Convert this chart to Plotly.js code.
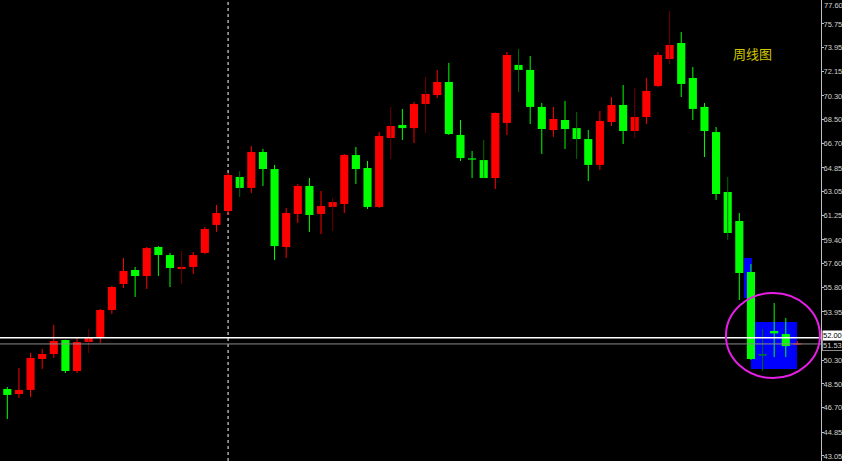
<!DOCTYPE html>
<html>
<head>
<meta charset="utf-8">
<script src="https://cdn.plot.ly/plotly-3.0.1.min.js"></script>
<style>
html,body{margin:0;padding:0;background:#000;}
#chart{width:842px;height:461px;}
</style>
</head>
<body>
<div id="chart"></div>
<script>
// Weekly OHLC values (index = week)
var openP  = [48.12,47.74,48.05,50.39,50.77,51.83,49.48,51.68,52.06,54.10,56.07,57.13,56.67,58.87,58.26,57.20,57.36,58.42,60.54,61.59,64.17,63.34,66.06,64.77,58.87,61.37,63.49,61.37,61.90,62.12,65.83,64.85,61.90,67.12,68.10,67.87,69.69,70.37,71.36,67.35,65.57,65.45,64.09,68.26,72.65,72.27,69.47,67.72,68.48,67.87,67.04,65.08,68.33,69.62,67.65,68.71,71.06,73.10,74.31,71.66,69.47,67.57,63.03,60.84,56.98,50.71,52.51,52.28,51.53];
var highP  = [48.27,49.71,50.85,51.15,52.97,51.85,51.98,52.66,54.18,55.92,58.04,57.36,58.87,58.94,58.42,58.57,58.49,60.38,62.05,64.47,64.62,66.52,66.29,65.08,61.82,63.64,64.09,63.11,62.58,65.91,66.44,65.38,67.57,69.47,69.32,69.84,71.74,72.27,72.80,68.48,66.14,66.97,69.05,73.63,73.86,73.33,69.77,69.47,69.92,69.09,67.73,69.16,70.22,71.13,70.90,71.66,73.63,76.73,75.14,72.49,69.77,67.95,64.17,61.44,57.58,52.66,54.63,53.50,51.75];
var lowP   = [45.85,47.44,47.52,49.64,50.47,49.33,49.33,50.85,51.60,53.80,55.77,55.09,55.69,56.67,55.84,56.07,56.83,58.34,60.01,61.29,62.65,62.96,63.49,57.89,58.04,60.69,60.01,59.85,60.08,61.44,63.64,61.75,61.82,65.53,66.97,66.74,67.50,70.15,67.35,65.38,64.09,64.05,63.26,67.35,70.60,68.18,65.91,67.20,66.29,65.53,63.86,64.70,68.03,66.66,67.12,68.18,70.98,72.72,70.22,68.48,65.68,62.43,59.40,54.86,50.32,49.48,50.54,50.54,51.45];
var closeP = [47.67,48.05,50.47,50.77,51.75,49.48,51.68,51.98,54.10,55.84,57.05,56.67,58.79,58.26,57.28,57.36,58.26,60.23,61.44,64.32,63.34,66.06,64.77,58.94,61.44,63.49,61.29,61.97,62.27,65.83,64.77,61.90,67.27,68.03,67.87,69.69,70.45,71.36,67.42,65.60,65.49,64.09,69.01,73.40,72.27,69.47,67.80,68.56,67.80,67.04,65.08,68.41,69.62,67.65,68.71,70.68,73.40,74.16,71.21,69.32,67.65,62.88,59.93,56.90,50.39,50.69,52.33,51.37,51.53];

// Right price scale labels
var tickVals = [75.75,73.95,72.15,70.30,68.50,66.70,64.85,63.05,61.25,59.40,57.60,55.80,53.95,50.30,48.50,46.70,44.85,43.05];
var tickText = ["75.75","73.95","72.15","70.30","68.50","66.70","64.85","63.05","61.25","59.40","57.60","55.80","53.95","50.30","48.50","46.70","44.85","43.05"];
var topTickText = "77.60";

// Reference lines
var hLinePrice = 52.00;
var bidPrice = 51.53;
var separatorWeek = 19;
var chartTitle = "周线图";

// Style: weeks whose wick is drawn in a dimmer tone
var dimWicks = [7,15,20,28,33,36,41,44,49,54,57,62,65];

var n = openP.length;
var idx = [];
for (var i = 0; i < n; i++) idx.push(i);

function wickTrace(filterFn, color) {
  var xs = [], ys = [];
  for (var i = 0; i < n; i++) {
    if (!filterFn(i)) continue;
    xs.push(i, i, null);
    ys.push(lowP[i], highP[i], null);
  }
  return {type:'scatter', mode:'lines', x:xs, y:ys, line:{color:color, width:1}, hoverinfo:'skip', showlegend:false};
}
function isUp(i){ return closeP[i] >= openP[i]; }
function isDim(i){ return dimWicks.indexOf(i) >= 0; }

var traces = [
  wickTrace(function(i){return isUp(i) && !isDim(i);}, '#ff0000'),
  wickTrace(function(i){return isUp(i) && isDim(i);}, '#6a0000'),
  wickTrace(function(i){return !isUp(i) && !isDim(i);}, '#00ff00'),
  wickTrace(function(i){return !isUp(i) && isDim(i);}, '#006a00')
];

var bases = [], heights = [], colors = [];
for (var j = 0; j < n; j++) {
  var lo = Math.min(openP[j], closeP[j]);
  var h = Math.abs(closeP[j] - openP[j]);
  if (h < 0.09) { lo = (openP[j] + closeP[j]) / 2 - 0.045; h = 0.09; }
  bases.push(lo); heights.push(h);
  var c = isUp(j) ? '#ff0000' : '#00ff00';
  if (j === 65) c = '#00a000';
  colors.push(c);
}
traces.push({type:'bar', x:idx, base:bases, y:heights, width:0.7,
  marker:{color:colors, line:{width:0}}, hoverinfo:'skip', showlegend:false});

var tickFont = {family:'Liberation Sans, sans-serif', size:7.5, color:'#d0d0d0'};

var layout = {
  width:842, height:461,
  paper_bgcolor:'#000000', plot_bgcolor:'#000000',
  margin:{l:0, r:21, t:0, b:0},
  showlegend:false, barmode:'overlay',
  xaxis:{range:[-0.63, 70.03], visible:false, showgrid:false, zeroline:false, fixedrange:true},
  yaxis:{range:[42.67, 77.565], side:'right', tickvals:tickVals, ticktext:tickText,
    ticks:'outside', ticklen:2, tickcolor:'#c0c0c0', showline:true, linecolor:'#c0c0c0', linewidth:1,
    ticklabelstandoff:-2,
    showgrid:false, zeroline:false, tickfont:tickFont},
  shapes:[
    {type:'line', xref:'x', yref:'paper', x0:separatorWeek, x1:separatorWeek, y0:0, y1:1, layer:'below',
      line:{color:'#ffffff', width:1, dash:'dot'}},
    {type:'rect', xref:'x', yref:'y', x0:63.4, x1:64.09, y0:55.01, y1:58.04, layer:'below',
      fillcolor:'#0000ff', line:{width:0}},
    {type:'rect', xref:'x', yref:'y', x0:64.0, x1:67.96, y0:49.64, y1:53.19, layer:'below',
      fillcolor:'#0000ff', line:{width:0}},
    {type:'line', xref:'paper', yref:'y', x0:0, x1:1, y0:hLinePrice, y1:hLinePrice, layer:'above',
      line:{color:'#ffffff', width:1.5}},
    {type:'line', xref:'paper', yref:'y', x0:0, x1:1, y0:bidPrice, y1:bidPrice, layer:'above',
      line:{color:'#8c8c8c', width:1}},
    {type:'circle', xref:'x', yref:'y', x0:61.85, x1:69.94, y0:48.95, y1:55.39, layer:'above',
      line:{color:'#e61ee6', width:2}}
  ],
  annotations:[
    {text:chartTitle, xref:'paper', yref:'paper', x:0.917, y:0.883, xanchor:'center', yanchor:'middle', showarrow:false,
      font:{family:'Noto Sans CJK SC, sans-serif', size:13, color:'#d2c800'}},
    {text:topTickText, xref:'paper', yref:'paper', x:1, y:1, xanchor:'left', yanchor:'top', xshift:2,
      showarrow:false, borderpad:0, font:tickFont},
    {text:hLinePrice.toFixed(2), xref:'paper', yref:'y', x:1, y:hLinePrice, xanchor:'left', yanchor:'middle', xshift:1, yshift:2,
      showarrow:false, bgcolor:'#ffffff', borderpad:0,
      font:{family:'Liberation Sans, sans-serif', size:7.5, color:'#000000'}},
    {text:bidPrice.toFixed(2), xref:'paper', yref:'y', x:1, y:bidPrice, xanchor:'left', yanchor:'middle', xshift:1, yshift:-2,
      showarrow:false, bgcolor:'#000000', bordercolor:'#8c8c8c', borderwidth:1, borderpad:0,
      font:{family:'Liberation Sans, sans-serif', size:7.5, color:'#d0d0d0'}}
  ]
};

Plotly.newPlot('chart', traces, layout, {staticPlot:true, displayModeBar:false});
</script>
</body>
</html>
